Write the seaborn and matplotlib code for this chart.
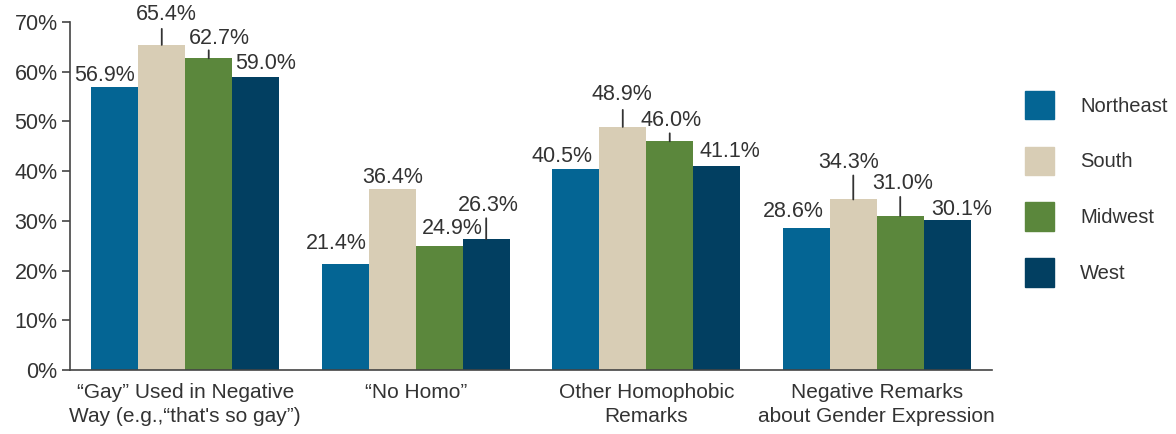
import matplotlib
matplotlib.use("Agg")
import matplotlib.pyplot as plt
import seaborn as sns
import pandas as pd

# data
categories = ["\u201cGay\u201d Used in Negative\nWay (e.g.,\u201cthat's so gay\u201d)",
              "\u201cNo Homo\u201d",
              "Other Homophobic\nRemarks",
              "Negative Remarks\nabout Gender Expression"]
regions = ["Northeast", "South", "Midwest", "West"]
northeast = [56.9, 21.4, 40.5, 28.6]
south = [65.4, 36.4, 48.9, 34.3]
midwest = [62.7, 24.9, 46.0, 31.0]
west = [59.0, 26.3, 41.1, 30.1]
yticks = [0, 10, 20, 30, 40, 50, 60, 70]

colors = {"Northeast": "#046594", "South": "#d8cdb5",
          "Midwest": "#5b873c", "West": "#023f61"}
text_color = "#333333"

# label layout: (dx, dy) pixel offset of label centre from bar top, leader length in px (0 = none)
label_offsets = {
    "Northeast": [(-10, 12), (-9, 20), (-14, 12), (-13, 16)],
    "South": [(5, 30), (0, 12), (-1, 32), (-5, 37)],
    "Midwest": [(11, 20), (13, 18), (1, 21), (2, 32)],
    "West": [(10, 13), (2, 34), (13, 14), (14, 11)],
}
leader_len = {
    "Northeast": [0, 0, 0, 0],
    "South": [16, 0, 17, 24],
    "Midwest": [8, 0, 8, 19],
    "West": [0, 21, 0, 0],
}

rows = []
for reg, vals in zip(regions, [northeast, south, midwest, west]):
    for cat, v in zip(categories, vals):
        rows.append({"category": cat, "region": reg, "value": v})
df = pd.DataFrame(rows)

sns.set_style("white")
plt.rcParams["font.family"] = ["Liberation Sans", "DejaVu Sans"]

fig = plt.figure(figsize=(11.76, 4.34), dpi=100)
ax = fig.add_axes([70 / 1176, 1 - 370 / 434, 922 / 1176, 348 / 434])

sns.barplot(data=df, x="category", y="value", hue="region",
            order=categories, hue_order=regions, palette=colors,
            width=0.815, gap=0, saturation=1, linewidth=0, ax=ax)

for reg, cont in zip(regions, ax.containers):
    for i, p in enumerate(cont.patches):
        cx = p.get_x() + p.get_width() / 2
        top = p.get_height()
        dx, dy = label_offsets[reg][i]
        ax.annotate(f"{top:.1f}%", xy=(cx, top), xytext=(dx, dy),
                    textcoords="offset pixels", ha="center", va="center",
                    fontsize=15.5, color=text_color, annotation_clip=False)
        L = leader_len[reg][i]
        if L:
            ax.annotate("", xy=(cx, top), xytext=(0, L), textcoords="offset pixels",
                        arrowprops=dict(arrowstyle="-", color=text_color, lw=1.3,
                                        shrinkA=0, shrinkB=0),
                        annotation_clip=False)

ax.set_xlim(-0.5, 3.5)
ax.set_ylim(0, 70)
ax.set_yticks(yticks)
ax.set_yticklabels([f"{t}%" for t in yticks])
ax.set_xticks(range(len(categories)))
ax.set_xticklabels(categories, va="top", linespacing=1.35)
ax.set_xticks([-0.5, 0.5, 1.5, 2.5, 3.5], minor=True)
ax.tick_params(axis="x", which="major", length=0, pad=9, labelsize=15, labelcolor=text_color)
ax.tick_params(axis="x", which="minor", length=5, width=1.2, color="#444444", direction="out")
ax.tick_params(axis="y", length=6, width=1.2, color="#444444", direction="out",
               pad=3, labelsize=15.5, labelcolor=text_color, left=True)
ax.set_xlabel("")
ax.set_ylabel("")

sns.despine(ax=ax, top=True, right=True)
for s in ["left", "bottom"]:
    ax.spines[s].set_color("#444444")
    ax.spines[s].set_linewidth(1.2)

ax.legend_.remove()
handles = [plt.Rectangle((0, 0), 1, 1, color=colors[r]) for r in regions]
fig.legend(handles, regions, loc="upper left", bbox_to_anchor=(1025 / 1176, 1 - 91 / 434),
           frameon=False, fontsize=14.5, handlelength=1.45, handleheight=1.8,
           handletextpad=1.3, labelspacing=1.35, borderpad=0, borderaxespad=0,
           labelcolor=text_color)

fig.savefig("out.png", dpi=100)
